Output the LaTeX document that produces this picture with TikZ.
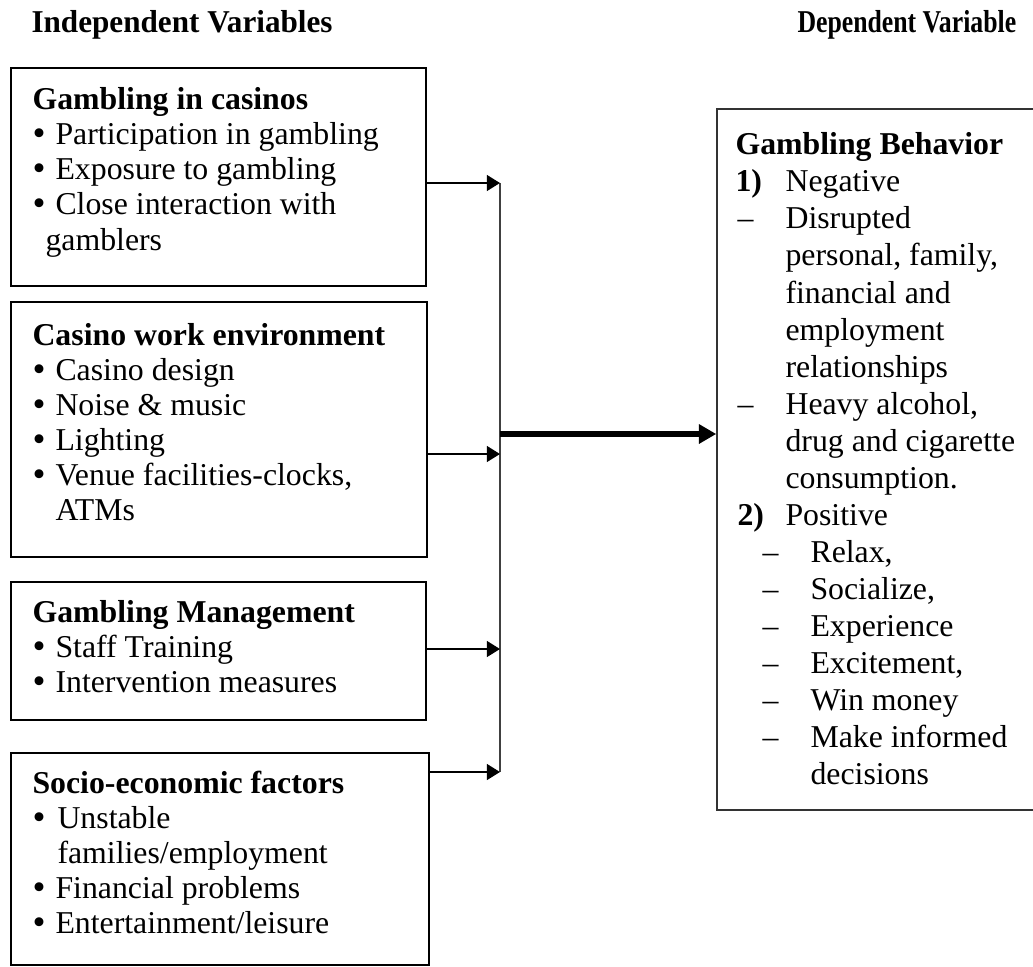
\documentclass[tikz,border=0pt]{standalone}
\usepackage{graphicx}
\usepackage{fontspec}
\setmainfont{Liberation Serif}
\usetikzlibrary{arrows.meta,fit}
\begin{document}
\begin{tikzpicture}[x=0.3774pt,y=-0.3774pt,
  box/.style={draw, line width=0.75pt, inner sep=0pt},
  rbox/.style={draw=black!80, line width=0.6pt, inner sep=0pt},
  txt/.style={anchor=base west, inner sep=0pt, font=\fontsize{12}{13}\selectfont},
  hd/.style={anchor=base west, inner sep=0pt, font=\fontsize{12}{13}\selectfont\bfseries},
  bul/.style={anchor=base west, inner sep=0pt, font=\fontsize{14}{13}\selectfont},
  arr/.style={line width=0.8pt, -{Triangle[length=5pt,width=6pt]}},
  bigarr/.style={line width=2pt, -{Triangle[length=6.5pt,width=7pt]}},
  bus/.style={line width=0.4pt, draw=black!75}]
\useasboundingbox (0,0) rectangle (1033,966);

% headings
\node[hd] (hI) at (31,33) {\scalebox{0.98}[1]{Independent Variables}};
\node[hd] (hD) at (797,33) {\scalebox{0.81}[1]{Dependent Variable}};

% boxes
\node[box, fit={(11,68) (426,286)}] (b1) {};
\node[box, fit={(11,302) (427,557)}] (b2) {};
\node[box, fit={(11,582) (426,720)}] (b3) {};
\node[box, fit={(11,753) (429,965)}] (b4) {};
\node[rbox, fit={(717,109) (1040,810)}] (R) {};

% box 1
\node[hd] (b1h) at (32,110) {Gambling in casinos};
\node[bul] (b1p1) at (32,146) {•}; \node[txt] (b1t1) at (55,145) {Participation in gambling};
\node[bul] (b1p2) at (32,181) {•}; \node[txt] (b1t2) at (55,180) {Exposure to gambling};
\node[bul] (b1p3) at (32,216) {•}; \node[txt] (b1t3) at (55,215) {Close interaction with};
\node[txt] (b1t4) at (45,250) {gamblers};

% box 2
\node[hd] (b2h) at (32,345) {Casino work environment};
\node[bul] (b2p1) at (32,381) {•}; \node[txt] (b2t1) at (55,380) {Casino design};
\node[bul] (b2p2) at (32,416) {•}; \node[txt] (b2t2) at (55,415) {Noise \& music};
\node[bul] (b2p3) at (32,451) {•}; \node[txt] (b2t3) at (55,450) {Lighting};
\node[bul] (b2p4) at (32,486) {•}; \node[txt] (b2t4) at (55,485) {Venue facilities-clocks,};
\node[txt] (b2t5) at (55,520) {ATMs};

% box 3
\node[hd] (b3h) at (32,622) {Gambling Management};
\node[bul] (b3p1) at (32,658) {•}; \node[txt] (b3t1) at (55,657) {Staff Training};
\node[bul] (b3p2) at (32,693) {•}; \node[txt] (b3t2) at (55,692) {Intervention measures};

% box 4
\node[hd] (b4h) at (32,793) {Socio-economic factors};
\node[bul] (b4p1) at (32,829) {•}; \node[txt] (b4t1) at (57,828) {Unstable};
\node[txt] (b4t2) at (57,863) {families/employment};
\node[bul] (b4p3) at (32,899) {•}; \node[txt] (b4t3) at (55,898) {Financial problems};
\node[bul] (b4p4) at (32,934) {•}; \node[txt] (b4t4) at (55,933) {Entertainment/leisure};

% right box
\node[hd] (rh) at (735,155) {Gambling Behavior};
\node[hd] (rn1) at (735,192) {1)}; \node[txt] (rt1) at (785,192) {Negative};
\node[txt] (rd2) at (737,229) {–}; \node[txt] (rt2) at (785,229) {Disrupted};
\node[txt] (rt3) at (785,266) {personal, family,};
\node[txt] (rt4) at (785,303) {financial and};
\node[txt] (rt5) at (785,340) {employment};
\node[txt] (rt6) at (785,377) {relationships};
\node[txt] (rd7) at (737,414) {–}; \node[txt] (rt7) at (785,414) {Heavy alcohol,};
\node[txt] (rt8) at (785,451) {drug and cigarette};
\node[txt] (rt9) at (785,488) {consumption.};
\node[hd] (rn10) at (737,525) {2)}; \node[txt] (rt10) at (785,525) {Positive};
\node[txt] (rd11) at (762,562) {–}; \node[txt] (rt11) at (810,562) {Relax,};
\node[txt] (rd12) at (762,599) {–}; \node[txt] (rt12) at (810,599) {Socialize,};
\node[txt] (rd13) at (762,636) {–}; \node[txt] (rt13) at (810,636) {Experience};
\node[txt] (rd14) at (762,673) {–}; \node[txt] (rt14) at (810,673) {Excitement,};
\node[txt] (rd15) at (762,710) {–}; \node[txt] (rt15) at (810,710) {Win money};
\node[txt] (rd16) at (762,747) {–}; \node[txt] (rt16) at (810,747) {Make informed};
\node[txt] (rt17) at (810,784) {decisions};

% bus junctions
\coordinate (j1) at (500,183);
\coordinate (j2) at (500,454);
\coordinate (j3) at (500,649);
\coordinate (j4) at (500,772);
\coordinate (jm) at (500,434);

\draw[bus] (j1) -- (j4);
\draw[arr] (b1.east |- j1) -- (j1);
\draw[arr] (b2.east |- j2) -- (j2);
\draw[arr] (b3.east |- j3) -- (j3);
\draw[arr] (b4.east |- j4) -- (j4);
\draw[bigarr] (jm) -- (R.west |- jm);
\end{tikzpicture}
\end{document}
